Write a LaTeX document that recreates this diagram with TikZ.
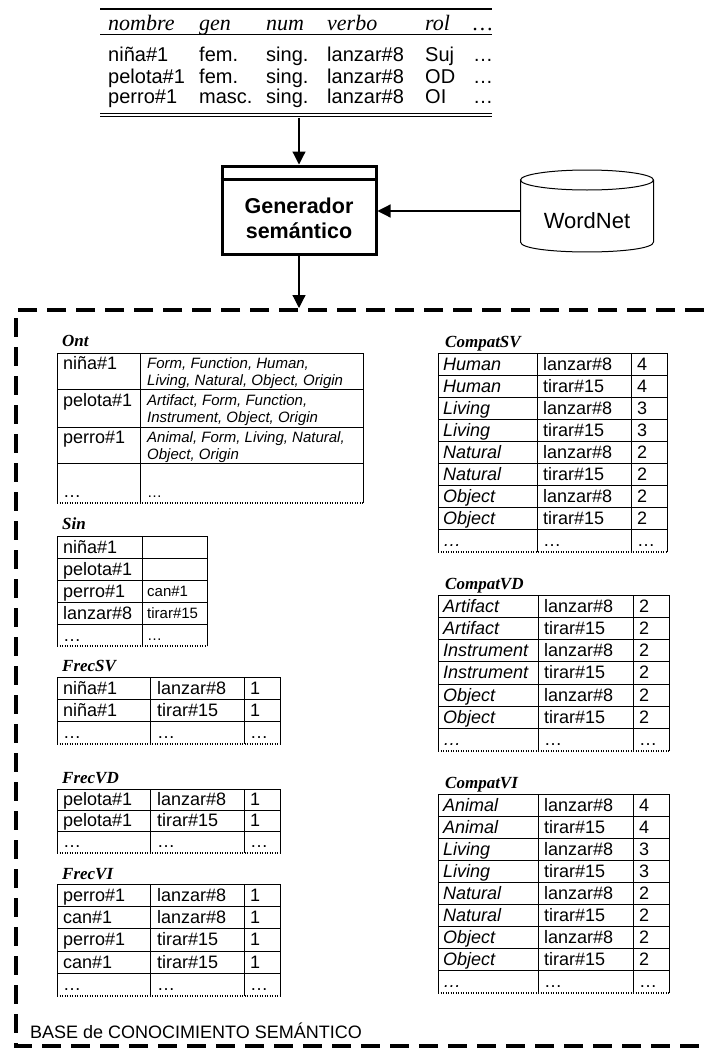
\documentclass[tikz,border=0pt]{standalone}
\usepackage{fontspec}
\setmainfont{Liberation Sans}
\newfontfamily\romana{Liberation Serif}
\usetikzlibrary{arrows.meta}

\tikzset{
  celda/.style={anchor=base west, inner sep=0pt, font=\fontsize{18}{20}\selectfont},
  cursiva/.style={celda, font=\fontsize{18}{20}\selectfont\itshape},
  chica/.style={celda, font=\fontsize{15}{17}\selectfont},
  chicait/.style={celda, font=\fontsize{15}{17}\selectfont\itshape},
  titulo/.style={anchor=base west, inner sep=0pt, font=\romana\bfseries\itshape\fontsize{17}{20}\selectfont},
  cab/.style={anchor=base west, inner sep=0pt, font=\romana\itshape\fontsize{22}{24}\selectfont},
  entrada/.style={anchor=base west, inner sep=0pt, font=\fontsize{20}{24}\selectfont},
  rejilla/.style={line width=1pt},
  puntos/.style={line width=1.2pt, dash pattern=on 1.2pt off 1.3pt},
  flecha/.style={line width=1.2pt, -{Triangle[length=13pt,width=13pt]}},
  marco/.style={line width=4pt, dash pattern=on 19pt off 10pt},
}

\begin{document}
\begin{tikzpicture}[x=1pt,y=-1pt]
\useasboundingbox (0,0) rectangle (704,1057);

% tabla de entrada
\draw[line width=2.5pt] (100,9) -- (492,9);
\draw[line width=0.8pt] (100,34) -- (492,34);
\draw[line width=0.8pt] (100,113) -- (492,113) (100,116.5) -- (492,116.5);
\foreach \x/\t [count=\i] in {108/nombre,199/gen,266/num,327/verbo,425/rol,473/…}
  \node[cab] (cab\i) at (\x,31) {\t};
\foreach \y/\a/\b/\c [count=\i] in {62/niña\#1/fem./Suj,83/pelota\#1/fem./OD,103.5/perro\#1/masc./OI} {
  \node[entrada] (nom\i) at (108,\y) {\a};
  \node[entrada] (gen\i) at (199,\y) {\b};
  \node[entrada] (num\i) at (266,\y) {sing.};
  \node[entrada] (verb\i) at (327,\y) {lanzar\#8};
  \node[entrada] (rol\i) at (425,\y) {\c};
  \node[entrada] (mas\i) at (473,\y) {…};
}
\coordinate (tabfin) at (299,117.5);

% generador y WordNet
\node[draw, line width=3pt, minimum width=154pt, minimum height=88pt, inner sep=0pt] (generador) at (299,210) {};
\draw[line width=3pt] ([yshift=-14.5pt]generador.north west) -- ([yshift=-14.5pt]generador.north east);
\node[align=center, font=\bfseries\fontsize{21.5}{25}\selectfont] (gentxt) at (299,218.5) {Generador\\semántico};
\node[minimum width=133pt, minimum height=82pt, inner sep=0pt, outer sep=0pt] (wn) at (587,211) {};
\draw[line width=1pt] (587,180) ellipse [x radius=66.5pt, y radius=10pt];
\draw[line width=1pt] (520.5,180) -- (520.5,242) .. controls (520.5,255.3) and (653.5,255.3) .. (653.5,242) -- (653.5,180);
\node[font=\fontsize{22}{24}\selectfont] (wntxt) at (587,221) {WordNet};
\coordinate (marcotop) at (299,308);

\draw[flecha] (tabfin) -- (generador.north);
\draw[flecha] (wn.west) -- (wn.west -| generador.east);
\draw[flecha] (generador.south) -- (marcotop);

% base de conocimiento
\draw[marco] (704,310) -- (16,310) -- (16,1046) -- (704,1046);
\node[anchor=base west, inner sep=0pt, font=\fontsize{18}{20}\selectfont] (base) at (30,1038) {BASE de CONOCIMIENTO SEMÁNTICO};

% Ont
\node[titulo] (ont) at (62,346) {Ont};
\foreach \y in {353,389,427,463} \draw[rejilla] (57,\y) -- (363,\y);
\foreach \x in {57,140,363} \draw[rejilla] (\x,353) -- (\x,503);
\draw[puntos] (57,503) -- (363,503);
\node[celda] (ont1) at (63,369) {niña\#1};
\node[chicait] (ont1a) at (147,368) {Form, Function, Human,};
\node[chicait] (ont1b) at (147,385) {Living, Natural, Object, Origin};
\node[celda] (ont2) at (63,406) {pelota\#1};
\node[chicait] (ont2a) at (147,405) {Artifact, Form, Function,};
\node[chicait] (ont2b) at (147,422) {Instrument, Object, Origin};
\node[celda] (ont3) at (63,443) {perro\#1};
\node[chicait] (ont3a) at (147,442) {Animal, Form, Living, Natural,};
\node[chicait] (ont3b) at (147,459) {Object, Origin};
\node[celda] (ont4) at (63,497) {…};
\node[chica] (ont4a) at (147,497) {…};

% Sin
\node[titulo] (sin) at (62,529) {Sin};
\foreach \i in {0,...,4} \draw[rejilla] (57,{536+22*\i}) -- (207,{536+22*\i});
\foreach \x in {57,142,207} \draw[rejilla] (\x,536) -- (\x,646);
\draw[puntos] (57,646) -- (207,646);
\foreach \a/\b [count=\i from 0] in {niña\#1/,pelota\#1/,perro\#1/can\#1,lanzar\#8/tirar\#15,…/…} {
  \node[celda] (sin-\i-a) at (63,{553+22*\i}) {\a};
  \node[chica] (sin-\i-b) at (147,{552+22*\i}) {\b};
}

% FrecSV
\node[titulo] (frecsv) at (62,671) {FrecSV};
\foreach \i in {0,...,2} \draw[rejilla] (57,{677+22.3*\i}) -- (280,{677+22.3*\i});
\foreach \x in {57,150,244,280} \draw[rejilla] (\x,677) -- (\x,744);
\draw[puntos] (57,744) -- (280,744);
\foreach \a/\b/\c [count=\i from 0] in {niña\#1/lanzar\#8/1,niña\#1/tirar\#15/1,…/…/…} {
  \node[celda] (fsv-\i-a) at (63,{694+22.3*\i}) {\a};
  \node[celda] (fsv-\i-b) at (157,{694+22.3*\i}) {\b};
  \node[celda] (fsv-\i-c) at (250,{694+22.3*\i}) {\c};
}

% FrecVD
\node[titulo] (frecvd) at (62,783) {FrecVD};
\foreach \i in {0,...,2} \draw[rejilla] (57,{789+21.3*\i}) -- (280,{789+21.3*\i});
\foreach \x in {57,150,244,280} \draw[rejilla] (\x,789) -- (\x,853);
\draw[puntos] (57,853) -- (280,853);
\foreach \a/\b/\c [count=\i from 0] in {pelota\#1/lanzar\#8/1,pelota\#1/tirar\#15/1,…/…/…} {
  \node[celda] (fvd-\i-a) at (63,{805+21.3*\i}) {\a};
  \node[celda] (fvd-\i-b) at (157,{805+21.3*\i}) {\b};
  \node[celda] (fvd-\i-c) at (250,{805+21.3*\i}) {\c};
}

% FrecVI
\node[titulo] (frecvi) at (62,879) {FrecVI};
\foreach \i in {0,...,4} \draw[rejilla] (57,{884+22.4*\i}) -- (280,{884+22.4*\i});
\foreach \x in {57,150,244,280} \draw[rejilla] (\x,884) -- (\x,996);
\draw[puntos] (57,996) -- (280,996);
\foreach \a/\b/\c [count=\i from 0] in {perro\#1/lanzar\#8/1,can\#1/lanzar\#8/1,perro\#1/tirar\#15/1,can\#1/tirar\#15/1,…/…/…} {
  \node[celda] (fvi-\i-a) at (63,{901+22.4*\i}) {\a};
  \node[celda] (fvi-\i-b) at (157,{901+22.4*\i}) {\b};
  \node[celda] (fvi-\i-c) at (250,{901+22.4*\i}) {\c};
}

% CompatSV
\node[titulo] (compatsv) at (445,347) {CompatSV};
\foreach \i in {0,...,8} \draw[rejilla] (438,{353+22.1*\i}) -- (667,{353+22.1*\i});
\foreach \x in {438,537,631,667} \draw[rejilla] (\x,353) -- (\x,552);
\draw[puntos] (438,552) -- (667,552);
\foreach \a/\b/\c [count=\i from 0] in {Human/lanzar\#8/4,Human/tirar\#15/4,Living/lanzar\#8/3,Living/tirar\#15/3,Natural/lanzar\#8/2,Natural/tirar\#15/2,Object/lanzar\#8/2,Object/tirar\#15/2,…/…/…} {
  \node[cursiva] (csv-\i-a) at (443,{370+22.1*\i}) {\a};
  \node[celda] (csv-\i-b) at (543,{370+22.1*\i}) {\b};
  \node[celda] (csv-\i-c) at (637,{370+22.1*\i}) {\c};
}

% CompatVD
\node[titulo] (compatvd) at (445,589) {CompatVD};
\foreach \i in {0,...,6} \draw[rejilla] (438,{595+22.3*\i}) -- (669,{595+22.3*\i});
\foreach \x in {438,538,633,669} \draw[rejilla] (\x,595) -- (\x,751);
\draw[puntos] (438,751) -- (669,751);
\foreach \a/\b/\c [count=\i from 0] in {Artifact/lanzar\#8/2,Artifact/tirar\#15/2,Instrument/lanzar\#8/2,Instrument/tirar\#15/2,Object/lanzar\#8/2,Object/tirar\#15/2,…/…/…} {
  \node[cursiva] (cvd-\i-a) at (443,{612+22.3*\i}) {\a};
  \node[celda] (cvd-\i-b) at (544,{612+22.3*\i}) {\b};
  \node[celda] (cvd-\i-c) at (639,{612+22.3*\i}) {\c};
}

% CompatVI
\node[titulo] (compatvi) at (445,788) {CompatVI};
\foreach \i in {0,...,8} \draw[rejilla] (438,{794+22.1*\i}) -- (669,{794+22.1*\i});
\foreach \x in {438,538,633,669} \draw[rejilla] (\x,794) -- (\x,993);
\draw[puntos] (438,993) -- (669,993);
\foreach \a/\b/\c [count=\i from 0] in {Animal/lanzar\#8/4,Animal/tirar\#15/4,Living/lanzar\#8/3,Living/tirar\#15/3,Natural/lanzar\#8/2,Natural/tirar\#15/2,Object/lanzar\#8/2,Object/tirar\#15/2,…/…/…} {
  \node[cursiva] (cvi-\i-a) at (443,{811+22.1*\i}) {\a};
  \node[celda] (cvi-\i-b) at (544,{811+22.1*\i}) {\b};
  \node[celda] (cvi-\i-c) at (639,{811+22.1*\i}) {\c};
}
\end{tikzpicture}
\end{document}
